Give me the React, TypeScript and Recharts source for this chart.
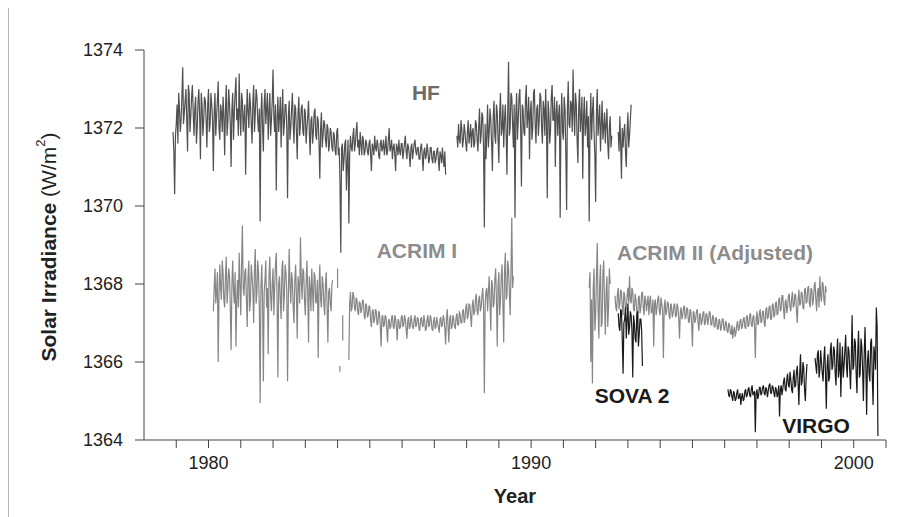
import { Label, Line, LineChart, ReferenceDot, XAxis, YAxis } from "recharts"

// readings are spaced 0.025 yr apart inside each stretch
const STEP = 0.025

// HF (Nimbus-7)
const hfStartA = 1978.9
const hfA = [
  1371.9, 1371.4, 1370.3, 1371.8, 1372.1, 1372.6, 1371.6, 1372.9, 1372.5, 1371.9, 1372.2, 1372.8, 1373.56, 1372.1, 1372.4, 1372.7, 1373.0, 1372.2, 1371.4, 1373.1,
  1372.9, 1371.9, 1372.3, 1372.8, 1373.1, 1372.4, 1371.8, 1372.5, 1372.8, 1371.6, 1372.0, 1372.7, 1373.0, 1372.3, 1371.2, 1372.9, 1372.6, 1371.8, 1372.2, 1372.8,
  1372.7, 1372.2, 1371.5, 1372.6, 1373.0, 1371.9, 1372.1, 1372.9, 1372.6, 1372.2, 1370.9, 1372.4, 1372.9, 1371.8, 1372.3, 1372.7, 1373.2, 1372.0, 1371.7, 1372.6,
  1372.4, 1371.9, 1372.8, 1372.3, 1371.3, 1372.5, 1373.1, 1371.8, 1372.2, 1373.0, 1372.6, 1372.1, 1371.0, 1372.5, 1372.9, 1371.7, 1372.4, 1372.9, 1373.3, 1372.2,
  1372.5, 1371.8, 1373.4, 1372.3, 1371.8, 1372.9, 1372.7, 1371.9, 1372.3, 1372.6, 1370.8, 1372.2, 1373.0, 1372.4, 1372.0, 1372.9, 1372.6, 1372.1, 1371.6, 1372.7,
  1373.1, 1371.9, 1372.4, 1373.0, 1372.8, 1372.2, 1371.9, 1372.5, 1369.6, 1372.3, 1372.9, 1372.0, 1371.4, 1372.6, 1373.0, 1372.1, 1372.5, 1372.9, 1371.7, 1372.4,
  1372.9, 1371.8, 1372.2, 1372.7, 1373.5, 1372.3, 1371.9, 1372.6, 1370.4, 1372.2, 1372.8, 1371.9, 1372.3, 1372.8, 1371.5, 1372.4, 1373.0, 1371.8, 1372.1, 1372.6,
  1372.6, 1372.0, 1370.2, 1372.3, 1372.7, 1371.7, 1372.0, 1372.5, 1372.9, 1372.1, 1371.6, 1372.6, 1372.5, 1371.9, 1371.2, 1372.4, 1372.8, 1371.8, 1372.1, 1372.5,
  1372.6, 1371.9, 1371.8, 1372.5, 1372.4, 1371.6, 1372.0, 1372.3, 1372.7, 1371.9, 1371.3, 1372.2, 1372.3, 1371.6, 1371.9, 1372.4, 1372.5, 1371.8, 1371.7, 1372.3,
  1372.2, 1371.6, 1370.7, 1372.0, 1372.4, 1371.5, 1371.8, 1372.2, 1372.1, 1371.7, 1371.5, 1372.1, 1372.0, 1371.4, 1371.6, 1372.0, 1371.9, 1371.5, 1371.4, 1371.9,
  1371.8, 1371.4, 1371.3, 1371.9, 1372.0, 1371.3, 1371.5, 1370.6, 1368.8, 1371.5, 1371.6, 1370.9, 1371.2, 1371.6, 1371.7, 1370.4, 1371.1, 1371.7, 1369.55, 1371.3,
  1371.8, 1371.5, 1371.4, 1371.8, 1372.0, 1371.4, 1371.6, 1371.9, 1372.15, 1371.5, 1371.7, 1371.3, 1371.9, 1371.6, 1371.3, 1371.8, 1371.7, 1371.3, 1371.4, 1371.7,
  1371.6, 1371.4, 1371.3, 1371.6, 1371.7, 1371.3, 1370.9, 1371.6, 1371.5, 1371.3, 1371.8, 1371.5, 1371.4, 1371.7, 1371.6, 1371.3, 1371.2, 1371.6, 1371.7, 1371.4,
  1371.5, 1371.7, 1371.3, 1371.5, 1371.8, 1371.3, 1371.4, 1371.7, 1372.0, 1371.4, 1371.5, 1371.7, 1371.2, 1371.5, 1371.6, 1371.3, 1370.9, 1371.6, 1371.5, 1371.3,
  1371.7, 1371.4, 1371.3, 1371.6, 1371.6, 1371.2, 1371.4, 1371.6, 1371.8, 1371.4, 1371.2, 1371.6, 1371.5, 1371.3, 1371.0, 1371.5, 1371.6, 1371.2, 1371.4, 1371.6,
  1371.7, 1371.4, 1371.3, 1371.5, 1371.5, 1371.2, 1371.2, 1371.5, 1371.6, 1371.3, 1370.9, 1371.4, 1371.5, 1371.2, 1371.3, 1371.6, 1371.4, 1371.1, 1371.2, 1371.5,
  1371.5, 1371.2, 1371.1, 1371.4, 1371.4, 1371.1, 1371.2, 1371.4, 1371.5, 1371.2, 1370.9, 1371.4, 1371.3, 1371.1, 1371.5, 1371.2, 1371.0, 1371.4, 1370.8,
]
const hfStartB = 1987.7
const hfB = [
  1371.8, 1371.5, 1372.1, 1371.7, 1371.6, 1372.2, 1372.0, 1371.5, 1371.7, 1372.1, 1371.9, 1371.6, 1371.4, 1371.9, 1372.2, 1371.6, 1371.8, 1372.1, 1371.5, 1371.9,
  1372.0, 1371.5, 1371.6, 1372.2, 1372.1, 1371.7, 1371.4, 1372.0, 1372.5, 1371.6, 1371.8, 1372.4, 1372.3, 1371.5, 1369.45, 1372.1, 1371.2, 1371.8, 1372.6, 1371.5,
  1371.9, 1372.5, 1372.2, 1371.6, 1370.9, 1372.3, 1372.7, 1371.8, 1371.6, 1372.6, 1372.4, 1371.7, 1371.1, 1372.4, 1372.9, 1371.8, 1372.0, 1372.6, 1371.5, 1372.2,
  1372.6, 1371.9, 1370.8, 1372.4, 1373.7, 1371.8, 1372.0, 1372.9, 1372.8, 1372.1, 1371.5, 1372.6, 1369.7, 1372.3, 1372.9, 1371.7, 1372.2, 1372.8, 1373.0, 1372.0,
  1370.5, 1372.6, 1372.5, 1371.9, 1371.8, 1372.7, 1373.1, 1372.0, 1372.3, 1372.8, 1371.2, 1372.4, 1372.7, 1371.7, 1372.0, 1372.9, 1373.0, 1372.1, 1371.6, 1372.5,
  1372.6, 1371.8, 1372.2, 1372.9, 1372.8, 1372.0, 1371.6, 1372.7, 1372.5, 1371.8, 1373.0, 1372.2, 1370.2, 1372.7, 1372.4, 1371.6, 1371.9, 1372.8, 1373.1, 1372.2,
  1372.2, 1372.8, 1371.0, 1372.4, 1372.7, 1371.8, 1372.3, 1372.6, 1369.7, 1372.2, 1372.9, 1371.9, 1371.7, 1372.8, 1372.5, 1371.4, 1369.9, 1372.5, 1373.2, 1372.1,
  1372.0, 1372.7, 1372.6, 1371.9, 1373.5, 1372.4, 1371.8, 1372.9, 1372.6, 1371.7, 1371.1, 1372.5, 1373.0, 1371.9, 1372.3, 1372.8, 1370.7, 1372.3, 1372.8, 1371.8,
  1372.1, 1372.7, 1371.5, 1372.3, 1369.6, 1372.0, 1372.9, 1371.7, 1372.4, 1372.8, 1371.9, 1371.3, 1370.1, 1372.4, 1373.0, 1371.8, 1372.2, 1372.6, 1371.4, 1372.1,
  1372.7, 1371.7, 1372.0, 1372.4, 1371.6, 1372.1, 1372.5, 1371.6, 1371.2, 1372.0, 1372.3, 1371.5, 1371.8,
]
const hfStartC = 1992.7
const hfC = [
  1371.9, 1371.4, 1372.3, 1371.6, 1370.7, 1372.0, 1371.5, 1371.9, 1372.1, 1371.4,
  1371.0, 1371.9, 1372.4, 1371.5, 1371.8, 1372.2, 1372.6,
]

// ACRIM I
const acrimIStartA = 1980.15
const acrimIA = [
  1367.3, 1367.9, 1368.4, 1367.5, 1367.8, 1368.3, 1366.0, 1367.7, 1368.5, 1367.9, 1367.6, 1368.6, 1368.3, 1367.6, 1367.4, 1368.2, 1368.7, 1367.5, 1367.9, 1368.4,
  1368.2, 1367.4, 1366.3, 1368.0, 1368.6, 1367.8, 1367.5, 1368.3, 1366.4, 1367.6, 1368.1, 1367.4, 1368.8, 1368.0, 1367.2, 1368.5, 1369.5, 1367.9, 1367.7, 1368.3,
  1368.4, 1367.6, 1366.9, 1368.2, 1368.6, 1367.3, 1367.6, 1368.5, 1368.2, 1367.8, 1367.0, 1368.4, 1368.9, 1367.5, 1367.8, 1368.6, 1368.3, 1367.4, 1364.95, 1367.9,
  1368.5, 1367.6, 1365.5, 1367.8, 1368.1, 1368.6, 1367.4, 1367.9, 1366.2, 1368.2, 1368.7, 1367.7, 1367.3, 1368.0, 1368.4, 1367.2, 1367.9, 1368.5, 1368.8, 1367.6,
  1365.6, 1368.0, 1368.2, 1367.6, 1367.1, 1368.4, 1368.6, 1367.3, 1367.7, 1368.5, 1368.3, 1367.8, 1365.5, 1367.7, 1368.9, 1368.0, 1367.5, 1368.3, 1368.1, 1367.4,
  1367.0, 1368.1, 1368.5, 1367.7, 1366.6, 1368.2, 1368.0, 1367.5, 1369.2, 1368.1, 1367.6, 1368.4, 1368.3, 1367.6, 1367.2, 1368.0, 1368.6, 1367.8, 1366.5, 1368.2,
  1367.9, 1367.3, 1368.4, 1367.8, 1367.3, 1368.3, 1368.2, 1367.5, 1367.6, 1368.1, 1366.1, 1367.9, 1368.5, 1367.6, 1367.4, 1368.2, 1368.0, 1367.5, 1367.2, 1368.0,
  1368.3, 1367.4, 1366.5, 1367.8, 1367.9, 1367.5, 1367.3, 1368.0, 1368.1,
]
const acrimIStartB = 1984.35
const acrimIB = [
  1366.05, 1367.5, 1367.8, 1367.3, 1367.4, 1367.8, 1367.7, 1367.4, 1367.3, 1367.65, 1367.6, 1367.3, 1367.2, 1367.55, 1367.5, 1367.25, 1367.35, 1367.6, 1367.55, 1367.2,
  1367.1, 1367.5, 1367.45, 1367.15, 1367.2, 1367.45, 1367.4, 1367.05, 1366.9, 1367.3, 1367.35, 1367.0, 1367.1, 1367.35, 1367.3, 1366.95, 1367.0, 1367.3, 1367.25, 1366.9,
  1366.4, 1367.15, 1367.2, 1366.9, 1366.95, 1367.2, 1367.15, 1366.85, 1366.5, 1367.05, 1367.1, 1366.85, 1366.9, 1367.15, 1367.2, 1366.9, 1366.85, 1367.2, 1367.1, 1366.9,
  1366.55, 1367.1, 1367.05, 1366.85, 1366.9, 1367.15, 1367.2, 1366.9, 1366.95, 1367.2, 1367.1, 1366.85, 1366.6, 1367.05, 1367.15, 1366.85, 1366.9, 1367.2, 1367.05, 1366.9,
  1366.85, 1367.1, 1367.2, 1366.9, 1366.95, 1367.15, 1367.1, 1366.85, 1366.8, 1367.1, 1367.15, 1366.95, 1366.9, 1367.2, 1367.05, 1366.8, 1366.85, 1367.1, 1367.2, 1366.9,
  1366.95, 1367.2, 1367.1, 1366.85, 1366.8, 1367.05, 1367.15, 1366.85, 1366.9, 1367.15, 1367.0, 1366.9, 1366.75, 1367.1, 1367.15, 1366.9, 1366.95, 1367.2, 1367.1, 1366.85,
  1366.45, 1367.1, 1367.35, 1366.9, 1366.5, 1367.1, 1367.2, 1366.85, 1366.9, 1367.2, 1367.1, 1366.9, 1366.85, 1367.15, 1367.25, 1366.95, 1366.95, 1367.3, 1367.2, 1367.0,
  1367.0, 1367.3, 1367.35, 1367.0, 1367.1, 1367.4, 1367.5, 1367.1, 1367.2, 1367.5, 1367.45, 1367.15, 1366.9, 1367.45, 1367.6, 1367.2, 1367.3, 1367.6, 1367.75, 1367.3,
  1367.2, 1367.6, 1367.7, 1367.3, 1367.4, 1367.7, 1367.9, 1367.4, 1365.2, 1367.5, 1367.8, 1367.9, 1367.3, 1367.8, 1368.2, 1367.5, 1366.8, 1368.1, 1368.0, 1367.4,
  1367.5, 1368.1, 1368.4, 1367.6, 1366.4, 1368.0, 1368.3, 1367.2, 1367.6, 1368.2, 1368.5, 1367.5, 1366.5, 1368.3, 1368.8, 1367.6, 1367.7, 1368.6, 1368.4, 1367.8,
  1367.2, 1368.3, 1369.7, 1367.9, 1368.2,
]
// a few stray readings in the 1984 gap
const acrimIBitYears = [1984.0, 1984.07, 1984.16]
const acrimIBitHigh = [1368.4, 1365.9, 1367.2]
const acrimIBitLow = [1367.9, 1365.75, 1366.55]

// ACRIM II (adjusted)
const acrimIIStartA = 1991.8
const acrimIIA = [
  1367.9, 1368.3, 1366.0, 1367.6, 1365.45, 1367.9, 1368.4, 1366.8, 1367.2, 1368.2,
  1369.05, 1367.4, 1366.6, 1368.0, 1368.5, 1366.9, 1367.0, 1368.3, 1368.6, 1367.5,
  1366.7, 1367.8, 1368.2, 1366.9, 1367.4, 1368.4, 1368.0,
]
const acrimIIStartB = 1992.6
const acrimIIB = [
  1367.7, 1367.4, 1367.3, 1367.75, 1367.9, 1367.35, 1367.5, 1367.85, 1367.8, 1367.4, 1367.2, 1367.8, 1367.7, 1367.3, 1367.4, 1367.7, 1367.9, 1367.5, 1368.2, 1367.6,
  1367.5, 1367.9, 1367.8, 1367.35, 1367.3, 1367.75, 1367.6, 1367.3, 1366.8, 1367.65, 1367.7, 1367.25, 1367.4, 1367.75, 1367.8, 1367.4, 1367.2, 1367.7, 1367.6, 1367.3,
  1367.5, 1367.7, 1367.2, 1367.55, 1367.7, 1367.25, 1367.3, 1367.6, 1366.4, 1367.5, 1367.6, 1367.2, 1367.4, 1367.6, 1367.7, 1367.3, 1367.2, 1367.65, 1367.5, 1367.3,
  1366.1, 1367.4, 1367.6, 1367.2, 1367.3, 1367.55, 1367.5, 1367.2, 1367.1, 1367.5, 1367.45, 1367.15, 1367.25, 1367.45, 1367.5, 1367.15, 1367.2, 1367.5, 1367.4, 1367.1,
  1366.6, 1367.3, 1367.4, 1367.1, 1367.2, 1367.4, 1367.45, 1367.1, 1367.15, 1367.4, 1367.35, 1367.05, 1367.0, 1367.35, 1367.3, 1367.0, 1366.4, 1367.3, 1367.25, 1367.0,
  1367.1, 1367.3, 1367.35, 1367.0, 1366.8, 1367.25, 1367.2, 1366.95, 1367.05, 1367.25, 1367.3, 1366.95, 1367.0, 1367.25, 1367.2, 1366.95, 1367.1, 1367.3, 1367.25, 1366.95,
  1366.95, 1367.2, 1367.15, 1366.9, 1366.9, 1367.15, 1367.1, 1366.85, 1366.85, 1367.1, 1367.05, 1366.8, 1366.9, 1367.1, 1367.1, 1366.85, 1366.8, 1367.05, 1367.0, 1366.8,
  1366.75, 1367.0, 1366.95, 1366.75, 1366.7, 1366.95, 1366.6, 1366.8, 1366.9, 1366.65, 1366.75, 1366.95, 1367.05, 1366.8, 1366.85, 1367.05, 1367.1, 1366.85, 1366.9, 1367.1,
  1367.15, 1366.9, 1366.85, 1367.15, 1367.2, 1366.9, 1366.95, 1367.2, 1367.25, 1366.95, 1366.9, 1367.15, 1367.2, 1366.9, 1366.1, 1367.1, 1367.3, 1366.95, 1367.0, 1367.25,
  1367.35, 1367.0, 1367.05, 1367.3, 1367.3, 1367.0, 1366.9, 1367.35, 1367.4, 1367.1, 1367.15, 1367.4, 1367.45, 1367.1, 1367.1, 1367.45, 1367.5, 1367.15, 1367.2, 1367.5,
  1367.55, 1367.2, 1367.25, 1367.6, 1367.65, 1367.3, 1367.35, 1367.7, 1367.7, 1367.35, 1367.1, 1367.55, 1367.6, 1367.25, 1367.4, 1367.7, 1367.75, 1367.4, 1367.3, 1367.65,
  1367.8, 1367.4, 1367.45, 1367.75, 1367.7, 1367.3, 1367.0, 1367.6, 1367.85, 1367.45, 1367.5, 1367.8, 1367.75, 1367.4, 1367.35, 1367.85, 1367.9, 1367.5, 1367.55, 1367.9,
  1367.95, 1367.5, 1367.4, 1367.9, 1367.85, 1367.45, 1367.6, 1367.95, 1368.05, 1367.6, 1367.3, 1367.8, 1367.9, 1367.4, 1368.2, 1367.7, 1367.55, 1368.05, 1368.0, 1367.6,
  1367.45, 1367.95, 1367.8,
]

// SOVA 2
const sovaStart = 1992.7
const sova2 = [
  1367.25, 1366.9, 1366.8, 1367.35, 1367.3, 1366.6, 1365.7, 1367.0, 1367.1, 1367.4,
  1366.6, 1367.1, 1367.5, 1366.7, 1366.9, 1367.3, 1367.2, 1366.8, 1365.6, 1367.2,
  1367.0, 1366.6, 1366.5, 1367.2, 1367.3, 1366.4, 1366.7, 1367.1, 1367.1, 1366.8,
  1365.9,
]

// VIRGO
const virgoStartA = 1996.1
const virgoA = [
  1365.3, 1365.15, 1365.1, 1365.3, 1365.25, 1365.1, 1365.0, 1365.25, 1365.2, 1365.0, 1365.05, 1365.2, 1365.3, 1365.05, 1365.1, 1365.2, 1364.9, 1365.1, 1365.2, 1365.0,
  1365.05, 1365.25, 1365.3, 1365.1, 1365.15, 1365.3, 1365.35, 1365.15, 1365.1, 1365.3, 1365.4, 1365.15, 1365.2, 1365.25, 1364.2, 1365.2, 1365.3, 1365.05, 1365.15, 1365.35,
  1365.35, 1365.15, 1365.2, 1365.35, 1365.4, 1365.2, 1365.15, 1365.35, 1365.3, 1365.1, 1365.25, 1365.4, 1365.45, 1365.2, 1365.2, 1365.4, 1365.35, 1365.2, 1365.1, 1365.35,
  1365.3, 1365.1, 1365.2, 1365.4, 1364.6, 1365.3, 1365.4, 1365.15, 1365.3, 1365.5, 1365.6, 1365.3, 1365.25, 1365.55, 1365.7, 1365.4, 1365.35, 1365.75, 1365.55, 1365.3,
  1365.2, 1365.6, 1365.8, 1365.35, 1365.4, 1365.75, 1365.9, 1365.45, 1364.9, 1365.7, 1366.2, 1365.4, 1365.5, 1366.0, 1365.85, 1365.3, 1365.0, 1365.6, 1365.95,
]
const virgoStartB = 1998.8
const virgoB = [
  1366.1, 1365.9, 1365.7, 1366.2, 1366.3, 1365.6, 1365.8, 1366.3, 1366.0, 1365.7, 1365.5, 1366.1, 1366.4, 1365.7, 1364.8, 1365.9, 1366.2, 1365.5, 1365.6, 1366.3,
  1366.5, 1365.8, 1365.9, 1366.4, 1366.3, 1365.7, 1365.4, 1366.2, 1366.6, 1365.6, 1365.8, 1366.5, 1365.1, 1365.9, 1366.4, 1365.6, 1365.9, 1366.3, 1366.7, 1365.9,
  1365.6, 1366.4, 1366.3, 1365.8, 1365.3, 1366.1, 1367.2, 1365.8, 1365.9, 1366.6, 1366.5, 1365.7, 1365.2, 1366.3, 1366.8, 1365.6, 1365.7, 1366.6, 1366.4, 1365.8,
  1365.0, 1366.2, 1366.9, 1365.9, 1364.65, 1366.0, 1366.3, 1365.7, 1365.5, 1366.5, 1366.6, 1365.6, 1364.9, 1366.4, 1366.2, 1365.8, 1367.4, 1366.9, 1364.1,
]

const yearTicks = [
  1979, 1980, 1981, 1982, 1983, 1984, 1985, 1986, 1987, 1988, 1989, 1990,
  1991, 1992, 1993, 1994, 1995, 1996, 1997, 1998, 1999, 2000, 2001,
]
const labelledYears = [1980, 1990, 2000]
const irradianceTicks = [1364, 1366, 1368, 1370, 1372, 1374]

const seriesNames = ["HF", "ACRIM I", "ACRIM II (Adjusted)", "SOVA 2", "VIRGO"]
const nameYears = [1986.74, 1986.46, 1995.7, 1993.13, 1998.83]
const nameValues = [1372.9, 1368.87, 1368.82, 1365.15, 1364.38]

const HF_GRAY = "#505050"
const ACRIM_GRAY = "#868686"
const BLACK = "#1a1a1a"
const nameColors = ["#6b6b6b", "#8c8c8c", "#8c8c8c", BLACK, BLACK]

const toPoints = (start: number, values: number[]) =>
  values.map((value, i) => ({ year: Math.round((start + i * STEP) * 1000) / 1000, value }))

const segments = [
  { key: "hfA", data: toPoints(hfStartA, hfA), color: HF_GRAY },
  { key: "hfB", data: toPoints(hfStartB, hfB), color: HF_GRAY },
  { key: "hfC", data: toPoints(hfStartC, hfC), color: HF_GRAY },
  { key: "acrimIA", data: toPoints(acrimIStartA, acrimIA), color: ACRIM_GRAY },
  { key: "acrimIB", data: toPoints(acrimIStartB, acrimIB), color: ACRIM_GRAY },
  ...acrimIBitYears.map((year, i) => ({
    key: "acrimIBit" + i,
    data: [
      { year, value: acrimIBitHigh[i] },
      { year, value: acrimIBitLow[i] },
    ],
    color: ACRIM_GRAY,
  })),
  { key: "acrimIIA", data: toPoints(acrimIIStartA, acrimIIA), color: ACRIM_GRAY },
  { key: "acrimIIB", data: toPoints(acrimIIStartB, acrimIIB), color: ACRIM_GRAY },
  { key: "sova2", data: toPoints(sovaStart, sova2), color: BLACK },
  { key: "virgoA", data: toPoints(virgoStartA, virgoA), color: BLACK },
  { key: "virgoB", data: toPoints(virgoStartB, virgoB), color: BLACK },
]

const FONT = "'Liberation Sans', Arial, sans-serif"

function YTitle(props: any) {
  const { viewBox } = props
  const cx = viewBox.x + 39
  const cy = viewBox.y + viewBox.height / 2 + 2
  return (
    <text
      x={cx}
      y={cy}
      transform={`rotate(-90 ${cx} ${cy})`}
      textAnchor="middle"
      dominantBaseline="central"
      fontSize={21}
      fill="#222"
      fontFamily={FONT}
    >
      <tspan fontWeight="bold">Solar Irradiance</tspan>
      <tspan> (W/m</tspan>
      <tspan fontSize={13} dy={-8}>2</tspan>
      <tspan dy={8}>)</tspan>
    </text>
  )
}

function XTitle(props: any) {
  const { viewBox } = props
  return (
    <text
      x={viewBox.x + viewBox.width / 2}
      y={viewBox.y + 56}
      textAnchor="middle"
      dominantBaseline="central"
      fontSize={20}
      fontWeight="bold"
      fill="#222"
      fontFamily={FONT}
    >
      Year
    </text>
  )
}

export default function App() {
  return (
    <div style={{ marginTop: -1, borderTop: "1px solid #b4b4b4", borderLeft: "1px solid #b4b4b4" }}>
      <LineChart
        width={890}
        height={509}
        margin={{ top: 42, right: 13, bottom: 37, left: 0 }}
        style={{ fontFamily: FONT }}
      >
        <XAxis
          type="number"
          dataKey="year"
          domain={[1978, 2001]}
          allowDataOverflow
          ticks={yearTicks}
          interval={0}
          tickFormatter={(y: number) => (labelledYears.includes(y) ? String(y) : "")}
          tick={{ fontSize: 18, fill: "#222" }}
          tickSize={8}
          tickMargin={8}
          height={40}
          stroke="#444"
        >
          <Label content={XTitle} />
        </XAxis>
        <YAxis
          type="number"
          domain={[1364, 1374]}
          allowDataOverflow
          ticks={irradianceTicks}
          interval={0}
          tick={{ fontSize: 18, fill: "#222" }}
          tickSize={9}
          tickMargin={12}
          width={135}
          stroke="#444"
        >
          <Label content={YTitle} />
        </YAxis>
        {segments.map((s) => (
          <Line
            key={s.key}
            data={s.data}
            dataKey="value"
            type="linear"
            stroke={s.color}
            strokeWidth={1.2}
            strokeLinejoin="miter"
            strokeMiterlimit={2}
            dot={false}
            activeDot={false}
            isAnimationActive={false}
          />
        ))}
        {seriesNames.map((name, i) => (
          <ReferenceDot
            key={name}
            x={nameYears[i]}
            y={nameValues[i]}
            r={0}
            ifOverflow="visible"
            shape={(p: any) => (
              <text
                x={p.cx}
                y={p.cy}
                textAnchor="middle"
                dominantBaseline="central"
                fontSize={21}
                fontWeight="bold"
                fill={nameColors[i]}
                fontFamily={FONT}
              >
                {name}
              </text>
            )}
          />
        ))}
      </LineChart>
    </div>
  )
}
